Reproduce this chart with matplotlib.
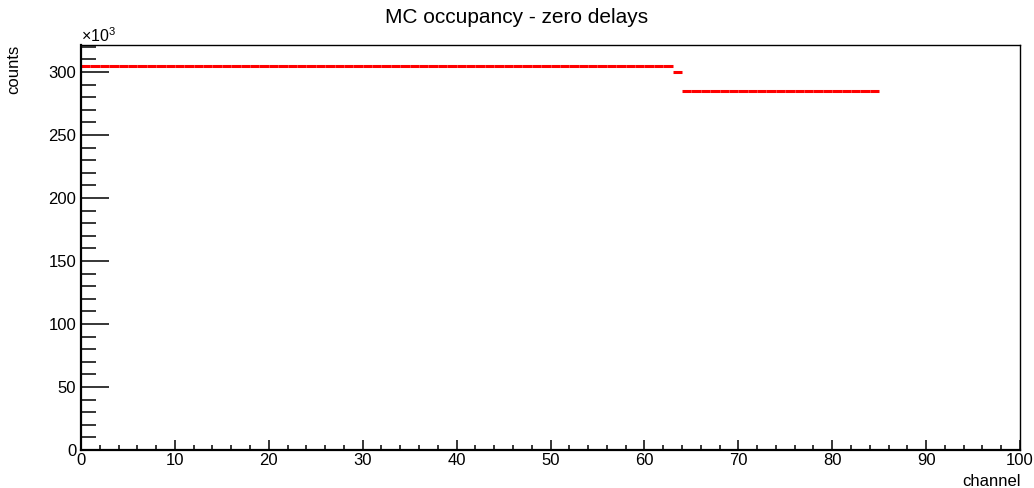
import matplotlib
matplotlib.use("Agg")
import matplotlib.pyplot as plt
from matplotlib.ticker import MultipleLocator
import numpy as np

plt.rcParams['font.family'] = ['Liberation Sans', 'DejaVu Sans']
plt.rcParams['mathtext.fontset'] = 'custom'
plt.rcParams['mathtext.rm'] = 'Liberation Sans'
plt.rcParams['mathtext.it'] = 'Liberation Sans'

# Occupancy per channel, in thousands of counts
channels = list(range(85))
counts_k = [
    305, 305, 305, 305, 305, 305, 305, 305, 305, 305,
    305, 305, 305, 305, 305, 305, 305, 305, 305, 305,
    305, 305, 305, 305, 305, 305, 305, 305, 305, 305,
    305, 305, 305, 305, 305, 305, 305, 305, 305, 305,
    305, 305, 305, 305, 305, 305, 305, 305, 305, 305,
    305, 305, 305, 305, 305, 305, 305, 305, 305, 305,
    305, 305, 305,
    300,
    285, 285, 285, 285, 285, 285, 285, 285, 285, 285,
    285, 285, 285, 285, 285, 285, 285, 285, 285, 285,
    285,
]

fig = plt.figure(figsize=(10.34, 4.88), dpi=100)
ax = fig.add_axes([81/1034, 38/488, 939/1034, 405/488])

x = np.array(channels, dtype=float)
y = np.array(counts_k, dtype=float)
ax.hlines(y, x, x + 1, colors='#ff0000', linewidth=2.2)

ax.set_xlim(0, 100)
ax.set_ylim(0, 321.4)

ax.xaxis.set_major_locator(MultipleLocator(10))
ax.xaxis.set_minor_locator(MultipleLocator(2))
ax.yaxis.set_major_locator(MultipleLocator(50))
ax.yaxis.set_minor_locator(MultipleLocator(10))

ax.tick_params(axis='x', which='major', direction='in', length=7.2, width=1.1,
               labelsize=12, pad=2)
ax.tick_params(axis='x', which='minor', direction='in', length=3.6, width=1.1)
ax.tick_params(axis='y', which='major', direction='in', length=20, width=1.1,
               labelsize=12, pad=3.5)
ax.tick_params(axis='y', which='minor', direction='in', length=10.8, width=1.1)

for side in ['left', 'bottom']:
    ax.spines[side].set_linewidth(1.6)
for side in ['top', 'right']:
    ax.spines[side].set_linewidth(1.0)

fig.text(0.5, 1 - 17.5/488, 'MC occupancy - zero delays', ha='center', va='center',
         fontsize=15)
ax.text(0.0, 1.0, r'$\times10^{3}$', transform=ax.transAxes, ha='left',
        va='bottom', fontsize=11.5)
fig.text(14/1034, 1 - 45/488, 'counts', rotation=90, ha='center', va='top',
         fontsize=12)
fig.text(1021/1034, 1 - 481/488, 'channel', ha='right', va='center',
         fontsize=12)

fig.savefig('out.png', dpi=100)
